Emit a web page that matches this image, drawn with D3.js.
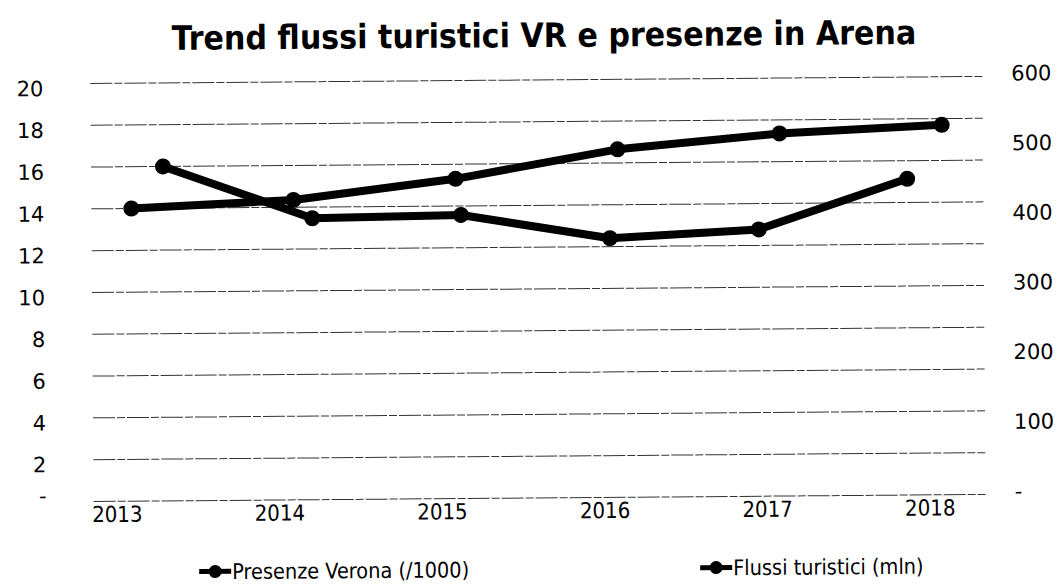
<!DOCTYPE html>
<html>
<head>
<meta charset="utf-8">
<style>
  body { margin: 0; background: #fff; }
  svg { display: block; }
</style>
</head>
<body>
<script src="https://d3js.org/d3.v7.min.js"></script>
<svg id="chart" width="1064" height="585"></svg>
<script>
// values
const years = ["2013", "2014", "2015", "2016", "2017", "2018"];
const flussi = [14.0, 14.35, 15.3, 16.65, 17.35, 17.7];    // left axis
const presenze = [480, 404, 407, 372, 383, 454];           // right axis
const leftTicks = [0, 2, 4, 6, 8, 10, 12, 14, 16, 18, 20];
const rightTicks = [0, 100, 200, 300, 400, 500, 600];
const legendLabels = ["Presenze Verona (/1000)", "Flussi turistici (mln)"];
const title = "Trend flussi turistici VR e presenze in Arena";

const ink = "#000";
// the original is a scan, sitting a touch askew
const svg = d3.select("#chart").append("g")
    .attr("transform", "rotate(-0.45,532,290)");

const yL = d3.scaleLinear().domain([0, 20]).range([498, 80]);
const yR = d3.scaleLinear().domain([0, 600]).range([498, 80]);
const xAxisScale = d3.scalePoint().domain(years).range([115, 928]);
const x1 = d3.scalePoint().domain(years).range([132, 943]);
const x2 = d3.scalePoint().domain(years).range([164, 908]);

// title
svg.append("text")
    .attr("x", 546).attr("y", 47)
    .attr("text-anchor", "middle")
    .style("font-family", "'DejaVu Sans Condensed', 'DejaVu Sans', sans-serif")
    .style("font-weight", "bold")
    .style("font-size", "33.5px")
    .style("fill", ink)
    .text(title);

// gridlines
svg.append("g").selectAll("line")
    .data(leftTicks)
    .enter().append("line")
    .attr("x1", 92).attr("x2", 984)
    .attr("y1", d => yL(d)).attr("y2", d => yL(d))
    .style("stroke", "#333")
    .style("stroke-width", "1px")
    .style("stroke-dasharray", "22,2,8,2");

// left axis
const leftAxis = d3.axisLeft(yL)
    .tickValues(leftTicks)
    .tickSize(0)
    .tickPadding(0)
    .tickFormat(d => d === 0 ? "-" : d);
const gL = svg.append("g").attr("transform", "translate(45,5)").call(leftAxis);
gL.select(".domain").remove();
gL.selectAll("text")
    .style("font-family", "'DejaVu Sans', Verdana, sans-serif")
    .style("font-size", "21px")
    .style("fill", ink);
// the zero dash sits higher in the original
gL.selectAll(".tick").filter(d => d === 0).select("text").attr("dy", "-0.2em");

// right axis
const rightAxis = d3.axisRight(yR)
    .tickValues(rightTicks)
    .tickSize(0)
    .tickPadding(0)
    .tickFormat(d => d === 0 ? "-" : d);
const gR = svg.append("g").attr("transform", "translate(1013,-3)").call(rightAxis);
gR.select(".domain").remove();
gR.selectAll("text")
    .style("font-family", "'DejaVu Sans', Verdana, sans-serif")
    .style("font-size", "21px")
    .style("fill", ink);

// x axis labels
const xAxis = d3.axisBottom(xAxisScale).tickSize(0).tickPadding(0);
const gX = svg.append("g").attr("transform", "translate(0,503)").call(xAxis);
gX.select(".domain").remove();
gX.selectAll("text")
    .style("font-family", "'DejaVu Sans Condensed', 'DejaVu Sans', sans-serif")
    .style("font-size", "22px")
    .style("fill", ink);

// series
const series = [
    { values: presenze, x: x2, y: yR },
    { values: flussi, x: x1, y: yL }
];
series.forEach(s => {
    const line = d3.line()
        .x((d, i) => s.x(years[i]))
        .y(d => s.y(d));
    svg.append("path")
        .datum(s.values)
        .attr("d", line)
        .style("fill", "none")
        .style("stroke", ink)
        .style("stroke-width", "8px")
        .style("stroke-linejoin", "round");
    svg.append("g").selectAll("circle")
        .data(s.values)
        .enter().append("circle")
        .attr("cx", (d, i) => s.x(years[i]))
        .attr("cy", d => s.y(d))
        .attr("r", 8)
        .style("fill", ink);
});

// legend
const legendX = d3.scalePoint().domain(legendLabels).range([197, 698]);
const lg = svg.append("g").selectAll("g")
    .data(legendLabels)
    .enter().append("g")
    .attr("transform", d => `translate(${legendX(d)},569)`);
lg.append("line")
    .attr("x1", 0).attr("x2", 32)
    .style("stroke", ink)
    .style("stroke-width", "5px");
lg.append("circle")
    .attr("cx", 16).attr("r", 6.5)
    .style("fill", ink);
lg.append("text")
    .attr("x", 33).attr("dy", "0.36em")
    .style("font-family", "'DejaVu Sans Condensed', 'DejaVu Sans', sans-serif")
    .style("font-size", "21.5px")
    .style("fill", ink)
    .text(d => d);
</script>
</body>
</html>
